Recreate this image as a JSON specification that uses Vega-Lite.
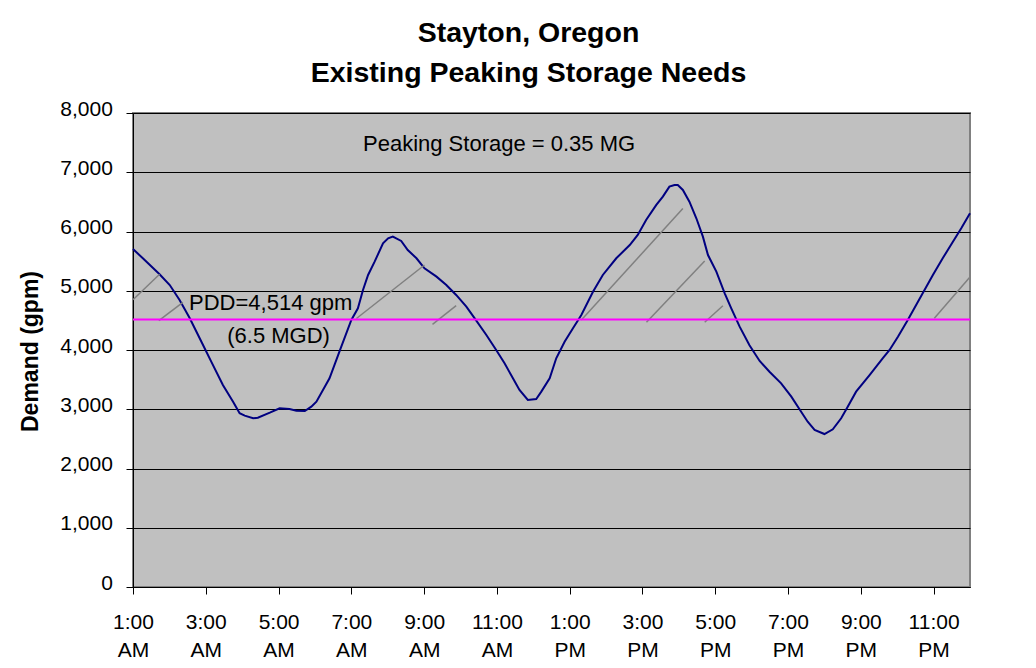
{
  "$schema": "https://vega.github.io/schema/vega-lite/v6.json",
  "width": 837,
  "height": 474,
  "autosize": {"type": "none"},
  "padding": {"left": 133, "top": 113, "right": 66, "bottom": 81},
  "background": "white",
  "title": {
    "text": ["Stayton, Oregon", "Existing Peaking Storage Needs"],
    "fontSize": 28.5,
    "fontWeight": "bold",
    "font": "Liberation Sans",
    "color": "black",
    "anchor": "middle",
    "frame": "group",
    "dx": -23,
    "lineHeight": 40,
    "offset": 11
  },
  "config": {
    "font": "Liberation Sans",
    "view": {"fill": "#C0C0C0", "stroke": "#808080", "strokeWidth": 2}
  },
  "layer": [
    {
      "data": {"values": [
        {"h": 1.00, "v": 5705}, {"h": 1.27, "v": 5548}, {"h": 1.73, "v": 5278}, {"h": 2.01, "v": 5097},
        {"h": 2.28, "v": 4844}, {"h": 2.56, "v": 4535}, {"h": 2.88, "v": 4140}, {"h": 3.15, "v": 3803},
        {"h": 3.47, "v": 3410}, {"h": 3.75, "v": 3128}, {"h": 3.93, "v": 2932}, {"h": 4.07, "v": 2892},
        {"h": 4.30, "v": 2847}, {"h": 4.43, "v": 2858}, {"h": 4.76, "v": 2942}, {"h": 5.03, "v": 3016},
        {"h": 5.30, "v": 3004}, {"h": 5.49, "v": 2976}, {"h": 5.72, "v": 2970}, {"h": 5.90, "v": 3043},
        {"h": 6.04, "v": 3128}, {"h": 6.22, "v": 3325}, {"h": 6.40, "v": 3523}, {"h": 6.68, "v": 3985},
        {"h": 7.00, "v": 4507}, {"h": 7.18, "v": 4704}, {"h": 7.32, "v": 5013}, {"h": 7.46, "v": 5266},
        {"h": 7.64, "v": 5491}, {"h": 7.87, "v": 5801}, {"h": 8.01, "v": 5885}, {"h": 8.14, "v": 5913},
        {"h": 8.37, "v": 5840}, {"h": 8.55, "v": 5688}, {"h": 8.79, "v": 5548}, {"h": 9.01, "v": 5379},
        {"h": 9.34, "v": 5238}, {"h": 9.61, "v": 5097}, {"h": 9.88, "v": 4929}, {"h": 10.16, "v": 4731},
        {"h": 10.39, "v": 4535}, {"h": 10.71, "v": 4254}, {"h": 10.98, "v": 4000}, {"h": 11.21, "v": 3776},
        {"h": 11.44, "v": 3523}, {"h": 11.62, "v": 3325}, {"h": 11.85, "v": 3156}, {"h": 12.08, "v": 3173},
        {"h": 12.22, "v": 3297}, {"h": 12.45, "v": 3523}, {"h": 12.63, "v": 3860}, {"h": 12.86, "v": 4140},
        {"h": 13.09, "v": 4366}, {"h": 13.32, "v": 4591}, {"h": 13.64, "v": 4984}, {"h": 13.91, "v": 5266},
        {"h": 14.28, "v": 5548}, {"h": 14.65, "v": 5772}, {"h": 14.87, "v": 5941}, {"h": 15.10, "v": 6194},
        {"h": 15.38, "v": 6448}, {"h": 15.56, "v": 6588}, {"h": 15.74, "v": 6757}, {"h": 15.88, "v": 6785},
        {"h": 15.97, "v": 6785}, {"h": 16.11, "v": 6701}, {"h": 16.29, "v": 6504}, {"h": 16.48, "v": 6223},
        {"h": 16.66, "v": 5913}, {"h": 16.80, "v": 5603}, {"h": 17.03, "v": 5322}, {"h": 17.26, "v": 4957},
        {"h": 17.44, "v": 4704}, {"h": 17.67, "v": 4394}, {"h": 17.94, "v": 4080}, {"h": 18.22, "v": 3815},
        {"h": 18.49, "v": 3634}, {"h": 18.81, "v": 3438}, {"h": 19.09, "v": 3212}, {"h": 19.36, "v": 2959},
        {"h": 19.54, "v": 2790}, {"h": 19.73, "v": 2650}, {"h": 20.00, "v": 2582}, {"h": 20.23, "v": 2661},
        {"h": 20.46, "v": 2847}, {"h": 20.64, "v": 3043}, {"h": 20.87, "v": 3297}, {"h": 21.24, "v": 3578},
        {"h": 21.60, "v": 3860}, {"h": 21.79, "v": 4000}, {"h": 22.02, "v": 4225}, {"h": 22.29, "v": 4507},
        {"h": 22.52, "v": 4760}, {"h": 22.75, "v": 5013}, {"h": 22.98, "v": 5266}, {"h": 23.25, "v": 5548},
        {"h": 23.53, "v": 5828}, {"h": 23.76, "v": 6054}, {"h": 24.00, "v": 6307}
      ]},
      "mark": {"type": "line", "color": "#000080", "strokeWidth": 2},
      "encoding": {
        "x": {
          "field": "h", "type": "quantitative",
          "scale": {"domain": [1, 24], "nice": false, "zero": false},
          "axis": {
            "values": [1, 3, 5, 7, 9, 11, 13, 15, 17, 19, 21, 23],
            "labelExpr": "[(datum.value > 12 ? datum.value - 12 : datum.value) + ':00', datum.value >= 12 ? 'PM' : 'AM']",
            "title": null,
            "grid": false,
            "tickSize": 7,
            "tickColor": "black",
            "domainColor": "black",
            "labelFontSize": 21,
            "labelColor": "black",
            "labelPadding": 17,
            "labelLineHeight": 28,
            "labelBaseline": "top",
            "labelFlush": false,
            "labelOverlap": false
          }
        },
        "y": {
          "field": "v", "type": "quantitative",
          "scale": {"domain": [0, 8000], "nice": false},
          "axis": {
            "values": [0, 1000, 2000, 3000, 4000, 5000, 6000, 7000, 8000],
            "format": ",.0f",
            "title": "Demand (gpm)",
            "titleFontSize": 23,
            "titleFontWeight": "bold",
            "titleColor": "black",
            "titleX": -103,
            "titleY": 238,
            "titleAngle": 270,
            "titleAlign": "center",
            "titleBaseline": "middle",
            "grid": true,
            "gridColor": "black",
            "gridWidth": 1,
            "tickSize": 7,
            "tickColor": "black",
            "domainColor": "black",
            "labelFontSize": 21,
            "labelColor": "black",
            "labelPadding": 13.6,
            "labelOffset": -4,
            "labelBaseline": "middle",
            "labelOverlap": false
          }
        }
      }
    },
    {
      "data": {"values": [
        {"h": 1.00, "v": 4847, "h2": 1.73, "v2": 5278},
        {"h": 1.71, "v": 4495, "h2": 2.37, "v2": 4805},
        {"h": 7.14, "v": 4532, "h2": 9.01, "v2": 5435},
        {"h": 9.23, "v": 4434, "h2": 9.88, "v2": 4748},
        {"h": 13.32, "v": 4506, "h2": 16.11, "v2": 6388},
        {"h": 15.11, "v": 4468, "h2": 16.71, "v2": 5502},
        {"h": 16.71, "v": 4468, "h2": 17.21, "v2": 4748},
        {"h": 23.02, "v": 4535, "h2": 24.0, "v2": 5232}
      ]},
      "mark": {"type": "rule", "color": "#808080", "strokeWidth": 1.5},
      "encoding": {
        "x": {"field": "h", "type": "quantitative"},
        "y": {"field": "v", "type": "quantitative"},
        "x2": {"field": "h2"},
        "y2": {"field": "v2"}
      }
    },
    {
      "data": {"values": [{"pdd": 4514}]},
      "mark": {"type": "rule", "color": "#FF00FF", "strokeWidth": 2},
      "encoding": {
        "y": {"field": "pdd", "type": "quantitative"}
      }
    },
    {
      "data": {"values": [
        {"h": 7.32, "v": 7359, "label": "Peaking Storage = 0.35 MG"},
        {"h": 2.54, "v": 4675, "label": "PDD=4,514 gpm"},
        {"h": 3.59, "v": 4113, "label": "(6.5 MGD)"}
      ]},
      "mark": {"type": "text", "align": "left", "baseline": "alphabetic", "fontSize": 22, "color": "black"},
      "encoding": {
        "x": {"field": "h", "type": "quantitative"},
        "y": {"field": "v", "type": "quantitative"},
        "text": {"field": "label"}
      }
    }
  ]
}
